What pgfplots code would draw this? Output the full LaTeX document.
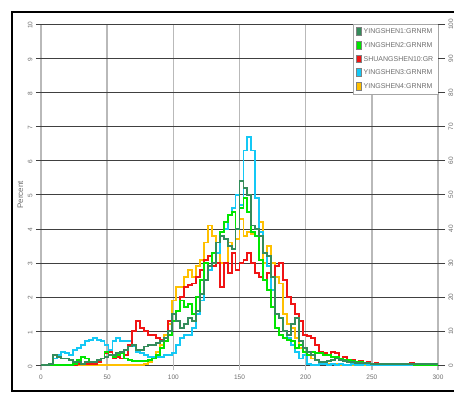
\documentclass[border=0pt]{standalone}
\usepackage{pgfplots}
\usepackage{pgfplotstable}
\pgfplotsset{compat=1.18}
\usepackage{fontspec}
\setmainfont{Liberation Sans}
\definecolor{cDG}{RGB}{52,140,90}
\definecolor{cG}{RGB}{0,230,0}
\definecolor{cR}{RGB}{240,20,20}
\definecolor{cC}{RGB}{20,200,245}
\definecolor{cO}{RGB}{255,192,0}
\definecolor{lbl}{RGB}{110,110,110}
\pgfplotstableread{
x g1 g2 r c o
0 0 0 0 0 0
3 0 0 0 0 0
6 0.05 0 0 0.05 0
9 0.3 0 0 0.2 0
12 0.25 0 0 0.3 0
15 0.2 0 0 0.4 0
18 0.2 0 0 0.35 0
21 0.15 0 0 0.3 0
24 0.1 0.05 0 0.45 0
27 0.1 0.15 0.03 0.5 0
30 0.05 0.25 0.05 0.6 0
33 0.1 0.2 0.03 0.7 0
36 0.1 0.1 0.05 0.75 0
39 0.1 0.1 0.05 0.8 0
42 0.15 0.15 0.1 0.75 0
45 0.2 0.2 0.2 0.7 0.02
48 0.25 0.4 0.35 0.6 0.02
51 0.3 0.3 0.4 0.45 0.02
54 0.3 0.25 0.2 0.7 0.02
57 0.35 0.3 0.25 0.8 0.02
60 0.4 0.35 0.2 0.7 0.02
63 0.45 0.2 0.3 0.7 0.02
66 0.55 0.15 0.6 0.7 0.02
69 0.6 0.12 1.0 0.55 0.02
72 0.45 0.12 1.3 0.4 0.02
75 0.45 0.12 1.1 0.35 0.02
78 0.55 0.12 1.0 0.3 0.05
81 0.6 0.15 0.9 0.25 0.1
84 0.6 0.2 0.9 0.25 0.2
87 0.65 0.3 0.8 0.25 0.4
90 0.7 0.5 0.75 0.25 0.6
93 0.8 0.7 0.7 0.3 0.9
96 1.0 0.9 1.3 0.3 1.2
99 1.5 1.3 1.5 0.35 1.9
102 1.3 1.6 1.6 0.6 2.3
105 1.1 1.9 2.0 0.8 2.3
108 1.2 1.7 2.3 0.9 2.6
111 1.4 1.8 2.35 0.9 2.8
114 1.3 1.5 2.4 1.1 2.6
117 1.6 2.0 2.6 1.5 2.9
120 2.1 2.5 2.8 1.9 3.1
123 2.5 3.0 3.1 2.5 3.6
126 2.9 2.9 3.2 2.8 4.1
129 3.0 3.3 2.9 3.0 3.8
132 3.6 3.6 3.0 3.3 3.3
135 3.8 3.9 2.3 3.9 3.0
138 3.7 4.2 3.0 4.0 3.0
141 3.5 4.4 2.7 4.4 3.6
144 3.4 4.5 3.3 4.6 3.4
147 4.0 4.0 2.8 5.0 3.7
150 5.4 4.6 3.0 4.7 4.3
153 5.2 4.9 3.1 6.3 3.8
156 5.0 4.5 3.3 6.7 3.9
159 4.1 3.9 3.0 6.3 3.85
162 4.0 3.8 2.7 4.9 3.8
165 3.8 3.1 2.6 3.9 4.2
168 3.3 2.5 2.5 3.3 3.0
171 3.2 2.2 2.7 2.9 3.5
174 2.6 1.7 2.6 2.2 3.0
177 1.5 1.1 2.9 1.5 2.6
180 1.4 0.9 3.0 1.4 2.4
183 1.0 0.8 2.5 1.0 1.5
186 0.9 0.75 2.0 0.8 1.2
189 1.2 0.7 1.8 0.6 1.1
192 1.4 0.5 1.5 0.4 0.8
195 0.7 0.6 1.3 0.2 0.5
198 0.5 0.4 0.9 0.3 0.4
201 0.4 0.3 0.85 0.05 0.3
204 0.3 0.4 0.8 0.02 0.2
207 0.15 0.35 0.6 0.02 0.15
210 0.1 0.35 0.4 0.03 0.1
213 0.1 0.3 0.35 0.05 0.08
216 0.12 0.3 0.3 0.02 0.05
219 0.15 0.25 0.4 0.03 0.03
222 0.2 0.25 0.35 0.02 0.03
225 0.15 0.2 0.2 0.03 0.02
228 0.12 0.15 0.25 0.02 0.02
231 0.1 0.15 0.15 0.02 0.02
234 0.1 0.12 0.15 0.03 0.02
237 0.08 0.1 0.1 0.02 0.02
240 0.08 0.1 0.12 0.02 0.02
243 0.06 0.08 0.08 0.03 0.02
246 0.06 0.07 0.1 0.02 0.02
249 0.05 0.05 0.05 0.02 0.02
252 0.05 0.05 0.06 0.02 0.02
255 0.04 0.04 0.05 0.02 0.02
258 0.04 0.04 0.04 0.02 0.02
261 0.04 0.04 0.05 0.02 0.01
264 0.04 0.03 0.04 0.02 0.01
267 0.03 0.03 0.04 0.02 0.01
270 0.04 0.03 0.05 0.02 0.01
273 0.03 0.03 0.04 0.02 0.01
276 0.04 0.03 0.05 0.02 0.01
279 0.03 0.03 0.07 0.02 0.01
282 0.04 0.02 0.05 0.02 0.01
285 0.03 0.02 0.04 0.02 0.01
288 0.04 0.02 0.05 0.02 0.01
291 0.03 0.02 0.03 0.02 0.01
294 0.03 0.02 0.02 0.02 0.01
297 0.03 0.02 0.02 0.02 0.01
300 0.03 0.02 0.02 0.02 0.01
}\histdata
\begin{document}
\begin{tikzpicture}
\useasboundingbox (0,0) rectangle (454pt,394pt);
\fill[white] (0,0) rectangle (454pt,394pt);
\begin{axis}[
  at={(41pt,28.7pt)}, anchor=south west,
  scale only axis, width=397pt, height=341pt,
  xmin=0, xmax=300, ymin=0, ymax=10,
  xtick={0,50,...,300}, ytick={0,1,...,10},
  axis line style={draw=none},
  grid=major,
  x grid style={gray!55, line width=1.4pt},
  y grid style={black!75, line width=0.8pt},
  tick align=outside, major tick length=5pt,
  xtick pos=bottom, ytick pos=left,
  x tick style={gray!55, line width=1.4pt},
  y tick style={black!75, line width=0.8pt},
  /pgf/number format/assume math mode=true,
  tick label style={font=\fontsize{6.5}{7}\selectfont, text=lbl},
  yticklabel style={rotate=90, anchor=south, xshift=-1pt},
  xticklabel style={yshift=-1pt},
  ylabel={Percent},
  ylabel style={at={(axis description cs:-0.052,0.5)}, anchor=center, font=\fontsize{8}{9}\selectfont, text=lbl},
  legend style={at={(1,1)}, anchor=north east, draw=gray!70, fill=white,
    font=\fontsize{7}{8}\selectfont, text=lbl, inner xsep=2.5pt, inner ysep=2.5pt,
    row sep=3.2pt},
  legend cell align=left,
  reverse legend,
  const plot mark left,
  every axis plot/.append style={line width=1.9pt, mark=none},
]
\addplot[cO, legend image code/.code={\draw[fill=cO,draw=black!50,line width=0.4pt] (0pt,-3.2pt) rectangle (5.5pt,4.5pt);}] table[x=x,y=o] {\histdata};
\addlegendentry{YINGSHEN4:GRNRM}
\addplot[cC, legend image code/.code={\draw[fill=cC,draw=black!50,line width=0.4pt] (0pt,-3.2pt) rectangle (5.5pt,4.5pt);}] table[x=x,y=c] {\histdata};
\addlegendentry{YINGSHEN3:GRNRM}
\addplot[cR, legend image code/.code={\draw[fill=cR,draw=black!50,line width=0.4pt] (0pt,-3.2pt) rectangle (5.5pt,4.5pt);}] table[x=x,y=r] {\histdata};
\addlegendentry{SHUANGSHEN10:GR}
\addplot[cG, legend image code/.code={\draw[fill=cG,draw=black!50,line width=0.4pt] (0pt,-3.2pt) rectangle (5.5pt,4.5pt);}] table[x=x,y=g2] {\histdata};
\addlegendentry{YINGSHEN2:GRNRM}
\addplot[cDG, legend image code/.code={\draw[fill=cDG,draw=black!50,line width=0.4pt] (0pt,-3.2pt) rectangle (5.5pt,4.5pt);}] table[x=x,y=g1] {\histdata};
\addlegendentry{YINGSHEN1:GRNRM}
\end{axis}
\begin{axis}[
  at={(41pt,28.7pt)}, anchor=south west,
  scale only axis, width=397pt, height=341pt,
  xmin=0, xmax=300, ymin=0, ymax=100,
  hide x axis,
  axis y line*=right,
  y axis line style={draw=none},
  ytick={0,10,...,100},
  tick align=outside, major tick length=7pt,
  y tick style={black!75, line width=0.8pt},
  /pgf/number format/assume math mode=true,
  tick label style={font=\fontsize{6.5}{7}\selectfont, text=lbl},
  yticklabel style={rotate=90, anchor=north, xshift=0pt},
]
\addplot[draw=none, forget plot] coordinates {(0,0) (300,0)};
\end{axis}
\draw[line width=2pt] (12pt,3pt) rectangle (457pt,382pt);
\end{tikzpicture}
\end{document}
